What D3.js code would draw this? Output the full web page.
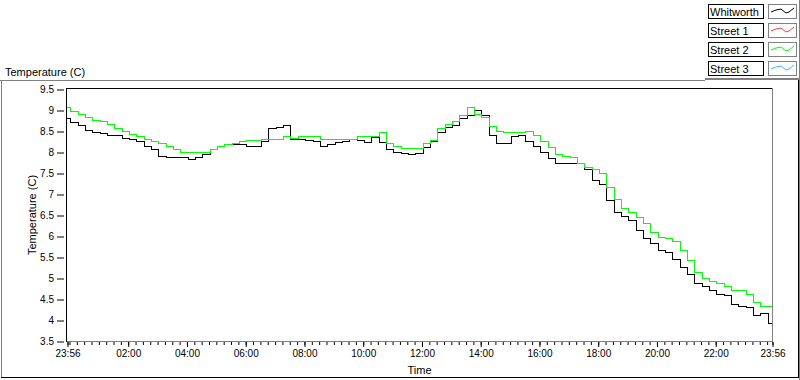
<!DOCTYPE html>
<html>
<head>
<meta charset="utf-8">
<script src="https://cdn.jsdelivr.net/npm/d3@7"></script>
<style>
  body { margin: 0; background: #fff; }
  svg { display: block; font-family: "Liberation Sans", Arial, sans-serif; font-size: 11px; }
</style>
</head>
<body>
<svg id="chart" width="800" height="380"></svg>
<script>
// readings every 15 minutes starting 23:56
var startTime = new Date(2000, 0, 1, 23, 56);
var endTime = new Date(2000, 0, 2, 23, 56);
var stepMinutes = 15;

var whitworth = [
  8.79, 8.70, 8.64, 8.52, 8.47, 8.45, 8.40, 8.40, 8.33, 8.29,
  8.25, 8.13, 8.05, 7.90, 7.87, 7.86, 7.86, 7.81, 7.87, 7.95,
  8.07, 8.13, 8.17, 8.17, 8.17, 8.12, 8.13, 8.25, 8.56, 8.59,
  8.64, 8.30, 8.29, 8.27, 8.25, 8.12, 8.17, 8.22, 8.25, 8.29,
  8.27, 8.22, 8.35, 8.22, 8.05, 8.00, 7.97, 7.95, 7.96, 8.10,
  8.25, 8.47, 8.58, 8.64, 8.80, 8.88, 9.00, 8.88, 8.40, 8.21,
  8.21, 8.37, 8.40, 8.25, 8.14, 8.00, 7.84, 7.72, 7.73, 7.72,
  7.72, 7.58, 7.32, 7.22, 6.85, 6.56, 6.46, 6.38, 6.14, 5.94,
  5.82, 5.65, 5.60, 5.45, 5.25, 5.08, 4.86, 4.79, 4.70, 4.60,
  4.58, 4.38, 4.33, 4.30, 4.10, 4.15, 3.92
];
var street1 = [];
var street2 = [
  9.06, 8.96, 8.90, 8.82, 8.76, 8.72, 8.66, 8.56, 8.48, 8.42,
  8.36, 8.29, 8.25, 8.20, 8.12, 8.05, 8.00, 7.98, 7.99, 8.00,
  8.05, 8.12, 8.18, 8.21, 8.24, 8.27, 8.27, 8.29, 8.29, 8.29,
  8.38, 8.31, 8.38, 8.38, 8.38, 8.29, 8.29, 8.29, 8.29, 8.29,
  8.38, 8.38, 8.38, 8.47, 8.21, 8.12, 8.09, 8.09, 8.09, 8.20,
  8.27, 8.56, 8.66, 8.72, 8.86, 9.06, 8.90, 8.82, 8.60, 8.48,
  8.47, 8.47, 8.47, 8.50, 8.40, 8.25, 8.10, 7.95, 7.90, 7.88,
  7.72, 7.62, 7.59, 7.50, 7.15, 6.88, 6.66, 6.55, 6.45, 6.30,
  6.08, 5.96, 5.94, 5.88, 5.65, 5.42, 5.14, 5.00, 4.92, 4.88,
  4.80, 4.70, 4.70, 4.60, 4.42, 4.32, 4.32
];
var street3 = [];

var yTicks = [3.5, 4, 4.5, 5, 5.5, 6, 6.5, 7, 7.5, 8, 8.5, 9, 9.5];
var legendNames = ["Whitworth", "Street 1", "Street 2", "Street 3"];
var legendColors = ["#000000", "#ff4040", "#00ff00", "#33bbff"];
var seriesList = [whitworth, street1, street2, street3];

var svg = d3.select("#chart");
var plotLeft = 67, plotRight = 772, plotTop = 89, plotBottom = 341;

var x = d3.scaleTime().domain([startTime, endTime]).range([plotLeft, plotRight]);
var y = d3.scaleLinear().domain([3.5, 9.5]).range([plotBottom, plotTop]);

function timeAt(i) { return d3.timeMinute.offset(startTime, i * stepMinutes); }

// outer panel
svg.append("line").attr("x1", 0).attr("x2", 705).attr("y1", 80.5).attr("y2", 80.5).attr("stroke", "#808080");
svg.append("line").attr("x1", 705).attr("x2", 800).attr("y1", 79).attr("y2", 79).attr("stroke", "#808080").attr("stroke-width", 2);
svg.append("line").attr("x1", 1.5).attr("x2", 1.5).attr("y1", 80).attr("y2", 378).attr("stroke", "#808080");
svg.append("line").attr("x1", 1).attr("x2", 799).attr("y1", 377.5).attr("y2", 377.5).attr("stroke", "#000");
svg.append("line").attr("x1", 798.5).attr("x2", 798.5).attr("y1", 80).attr("y2", 378).attr("stroke", "#000");
svg.append("line").attr("x1", 799.5).attr("x2", 799.5).attr("y1", 0).attr("y2", 380).attr("stroke", "#808080");

svg.append("text").attr("x", 5).attr("y", 76).text("Temperature (C)");

// legend
var legend = svg.append("g").selectAll("g")
    .data(legendNames)
  .enter().append("g")
    .attr("transform", function(d, i) { return "translate(708," + (4 + i * 19) + ")"; });

legend.append("rect")
  .attr("x", 0.5).attr("y", 0.5).attr("width", 55).attr("height", 14)
  .attr("fill", "#fff").attr("stroke", "#000");
legend.append("text").attr("x", 2).attr("y", 12).text(function(d) { return d; });
legend.append("rect")
  .attr("x", 60.5).attr("y", 0.5).attr("width", 28).attr("height", 14)
  .attr("fill", "#fff").attr("stroke", "#808080");
legend.append("polyline")
  .attr("points", "63,8 68,6 73,5 78,9 81,8 86,4")
  .attr("fill", "none")
  .attr("stroke", function(d, i) { return legendColors[i]; });

// plot area
svg.append("rect").attr("x", plotLeft).attr("y", plotTop)
  .attr("width", plotRight - plotLeft).attr("height", plotBottom - plotTop).attr("fill", "#fff");

svg.append("clipPath").attr("id", "plotclip").append("rect")
  .attr("x", plotLeft).attr("y", plotTop - 1)
  .attr("width", plotRight - plotLeft + 1).attr("height", plotBottom - plotTop + 1);

var line = d3.line()
  .x(function(d, i) { return x(timeAt(i)); })
  .y(function(d) { return y(d); })
  .curve(d3.curveStep);

svg.append("g").attr("clip-path", "url(#plotclip)")
  .selectAll("path")
    .data(seriesList)
  .enter().append("path")
    .attr("d", function(d) { return d.length ? line(d) : null; })
    .attr("fill", "none")
    .attr("stroke", function(d, i) { return legendColors[i]; })
    .attr("stroke-width", 1)
    .attr("shape-rendering", "crispEdges");

// frame: dark top/left, grey right/bottom
svg.append("line").attr("x1", plotLeft - 0.5).attr("x2", plotRight).attr("y1", plotTop - 0.5).attr("y2", plotTop - 0.5).attr("stroke", "#000");
svg.append("line").attr("x1", plotLeft - 0.5).attr("x2", plotLeft - 0.5).attr("y1", plotTop - 1).attr("y2", plotBottom + 1).attr("stroke", "#000");
svg.append("line").attr("x1", plotRight + 0.5).attr("x2", plotRight + 0.5).attr("y1", plotTop - 1).attr("y2", plotBottom + 1).attr("stroke", "#808080");
svg.append("line").attr("x1", plotLeft).attr("x2", plotRight + 1).attr("y1", plotBottom + 0.5).attr("y2", plotBottom + 0.5).attr("stroke", "#808080");

// y axis
var yAxis = svg.append("g")
  .attr("transform", "translate(" + (plotLeft - 3) + ",0.5)")
  .call(d3.axisLeft(y).tickValues(yTicks).tickSize(7).tickPadding(3).tickFormat(d3.format("")));
yAxis.select(".domain").remove();
yAxis.selectAll("text").attr("font-family", null).attr("font-size", null).attr("fill", "#000");
yAxis.selectAll("line").attr("stroke", "#000");

// x axis: quarter-hour minor ticks, two-hourly labelled ticks
var minorTicks = [startTime].concat(d3.timeMinute.every(15).range(startTime, endTime), [endTime]);
var majorTicks = [startTime].concat(d3.timeHour.every(2).range(d3.timeMinute.offset(startTime, 5), d3.timeMinute.offset(endTime, -60)), [endTime]);

var xMinor = svg.append("g")
  .attr("transform", "translate(0.5," + (plotBottom + 1) + ")")
  .call(d3.axisBottom(x).tickValues(minorTicks).tickSize(3).tickFormat(""));
xMinor.select(".domain").remove();
xMinor.selectAll("line").attr("stroke", "#000");

var xMajor = svg.append("g")
  .attr("transform", "translate(0.5," + (plotBottom + 1) + ")")
  .call(d3.axisBottom(x).tickValues(majorTicks).tickSize(5).tickPadding(3).tickFormat(d3.timeFormat("%H:%M")));
xMajor.select(".domain").remove();
xMajor.selectAll("text").attr("font-family", null).attr("font-size", null).attr("fill", "#000");
xMajor.selectAll("line").attr("stroke", "#000");

svg.append("text").attr("x", (plotLeft + plotRight) / 2).attr("y", 374)
  .attr("text-anchor", "middle").text("Time");

svg.append("text")
  .attr("transform", "translate(36," + ((plotTop + plotBottom) / 2) + ")rotate(-90)")
  .attr("text-anchor", "middle").text("Temperature (C)");
</script>
</body>
</html>
